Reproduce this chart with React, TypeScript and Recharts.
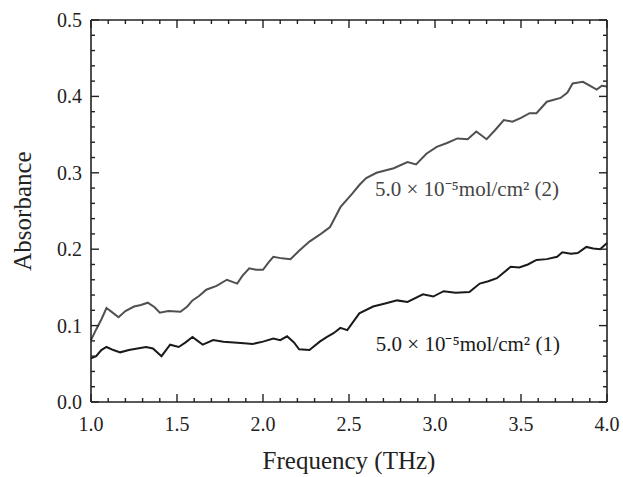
import { LineChart, Line, XAxis, YAxis, ReferenceDot } from 'recharts';

// sample (2) - upper trace
const freq2 = [
  1.0, 1.03, 1.06, 1.09, 1.12, 1.16, 1.2, 1.25, 1.29, 1.33, 1.37, 1.4, 1.45, 1.52, 1.56, 1.59,
  1.63, 1.67, 1.73, 1.79, 1.85, 1.88, 1.92, 1.96, 2.0, 2.03, 2.06, 2.11, 2.16, 2.21, 2.27, 2.33,
  2.36, 2.39, 2.45, 2.52, 2.56, 2.6, 2.66, 2.76, 2.84, 2.89, 2.95, 3.01, 3.07, 3.13, 3.19, 3.24,
  3.3, 3.35, 3.4, 3.45, 3.5, 3.55, 3.59, 3.65, 3.73, 3.77, 3.8, 3.86, 3.9, 3.94, 3.97, 4.0,
];
const abs2 = [
  0.081, 0.095, 0.108, 0.123, 0.118, 0.111, 0.119, 0.125, 0.127, 0.13, 0.124, 0.117, 0.119, 0.118, 0.125, 0.133,
  0.139, 0.147, 0.152, 0.16, 0.155, 0.165, 0.175, 0.173, 0.173, 0.182, 0.19, 0.188, 0.187, 0.198, 0.21, 0.219,
  0.224, 0.229, 0.255, 0.273, 0.284, 0.293, 0.3, 0.306, 0.314, 0.311, 0.325, 0.334, 0.339, 0.345, 0.344, 0.354,
  0.344, 0.356, 0.369, 0.367, 0.372, 0.378, 0.378, 0.393, 0.398, 0.405, 0.417, 0.419, 0.414, 0.409, 0.414, 0.413,
];

// sample (1) - lower trace
const freq1 = [
  1.0, 1.03, 1.06, 1.09, 1.13, 1.17, 1.22, 1.27, 1.32, 1.36, 1.41, 1.46, 1.51, 1.55, 1.59, 1.62,
  1.65, 1.71, 1.77, 1.83, 1.89, 1.94, 2.0, 2.06, 2.1, 2.14, 2.18, 2.21, 2.27, 2.33, 2.37, 2.41,
  2.45, 2.49, 2.56, 2.64, 2.71, 2.78, 2.84, 2.93, 2.99, 3.05, 3.12, 3.2, 3.26, 3.31, 3.36, 3.44,
  3.49, 3.54, 3.59, 3.65, 3.71, 3.74, 3.79, 3.83, 3.88, 3.92, 3.96, 4.0,
];
const abs1 = [
  0.057, 0.06, 0.068, 0.072, 0.068, 0.065, 0.068, 0.07, 0.072, 0.07, 0.06, 0.075, 0.072, 0.078, 0.085, 0.08,
  0.075, 0.081, 0.079, 0.078, 0.077, 0.076, 0.079, 0.083, 0.081, 0.086, 0.078, 0.069, 0.068, 0.079, 0.085, 0.09,
  0.097, 0.094, 0.116, 0.125, 0.129, 0.133, 0.131, 0.141, 0.138, 0.145, 0.143, 0.144, 0.155, 0.158, 0.162, 0.177,
  0.176, 0.18, 0.186, 0.187, 0.19, 0.196, 0.194, 0.195, 0.203, 0.201, 0.2, 0.208,
];

const xTicks = [1.0, 1.1, 1.2, 1.3, 1.4, 1.5, 1.6, 1.7, 1.8, 1.9, 2.0, 2.1, 2.2, 2.3, 2.4, 2.5, 2.6, 2.7, 2.8, 2.9, 3.0, 3.1, 3.2, 3.3, 3.4, 3.5, 3.6, 3.7, 3.8, 3.9, 4.0];
const yTicks = [0, 0.02, 0.04, 0.06, 0.08, 0.1, 0.12, 0.14, 0.16, 0.18, 0.2, 0.22, 0.24, 0.26, 0.28, 0.3, 0.32, 0.34, 0.36, 0.38, 0.4, 0.42, 0.44, 0.46, 0.48, 0.5];

const label2 = '5.0 × 10⁻⁵mol/cm² (2)';
const label1 = '5.0 × 10⁻⁵mol/cm² (1)';

const data2 = freq2.map((f, i) => ({ f, a: abs2[i] }));
const data1 = freq1.map((f, i) => ({ f, a: abs1[i] }));

const FONT = 'Liberation Serif';
const INK = '#222';

// layout: plot box size follows from chart size, margins and axis sizes
const W = 623;
const H = 477;
const M = { top: 19, right: 15, left: 0, bottom: 0 };
const Y_W = 91;
const X_H = 75;
const PLOT_W = W - M.left - M.right - Y_W - 1;
const PLOT_H = H - M.top - M.bottom - X_H - 1;

const isMajorX = (v: number) => Math.abs(v * 2 - Math.round(v * 2)) < 1e-6;
const isMajorY = (v: number) => Math.abs(v * 10 - Math.round(v * 10)) < 1e-6;

// inward ticks on bottom and top edges
const BottomTick = (props: any) => {
  const { x, y, payload } = props;
  const major = isMajorX(payload.value);
  const len = major ? 8 : 4;
  return (
    <g>
      <line x1={x} y1={y} x2={x} y2={y - len} stroke={INK} strokeWidth={1.4} />
      <line x1={x} y1={y - PLOT_H} x2={x} y2={y - PLOT_H + len} stroke={INK} strokeWidth={1.4} />
      {major && (
        <text x={x} y={y + 29} textAnchor="middle" fontFamily={FONT} fontSize={20} fill={INK}>
          {payload.value.toFixed(1)}
        </text>
      )}
    </g>
  );
};

// inward ticks on left and right edges
const LeftTick = (props: any) => {
  const { x, y, payload } = props;
  const major = isMajorY(payload.value);
  const len = major ? 8 : 4;
  return (
    <g>
      <line x1={x} y1={y} x2={x + len} y2={y} stroke={INK} strokeWidth={1.4} />
      <line x1={x + PLOT_W} y1={y} x2={x + PLOT_W - len} y2={y} stroke={INK} strokeWidth={1.4} />
      {major && (
        <text x={x - 9} y={y + 7} textAnchor="end" fontFamily={FONT} fontSize={20} fill={INK}>
          {payload.value.toFixed(1)}
        </text>
      )}
    </g>
  );
};

export default function App() {
  return (
    <div style={{ position: 'absolute', left: 0, top: 0, width: W, height: H, background: '#fff' }}>
      <LineChart width={W} height={H} margin={M}>
        <XAxis
          dataKey="f"
          type="number"
          domain={[1, 4]}
          ticks={xTicks}
          interval={0}
          height={X_H}
          tickSize={0}
          tickMargin={0}
          axisLine={{ stroke: INK, strokeWidth: 1.6 }}
          tick={BottomTick}
          label={{ value: 'Frequency (THz)', position: 'insideBottom', offset: 8, fontSize: 25, fontFamily: FONT, fill: INK }}
        />
        <XAxis xAxisId="top" orientation="top" type="number" domain={[1, 4]} height={1} tick={false} axisLine={{ stroke: INK, strokeWidth: 1.6 }} />
        <YAxis
          type="number"
          domain={[0, 0.5]}
          ticks={yTicks}
          interval={0}
          width={Y_W}
          tickSize={0}
          tickMargin={0}
          axisLine={{ stroke: INK, strokeWidth: 1.6 }}
          tick={LeftTick}
          label={{ value: 'Absorbance', angle: -90, position: 'insideLeft', offset: 22, textAnchor: 'middle', fontSize: 25, fontFamily: FONT, fill: INK }}
        />
        <YAxis yAxisId="right" orientation="right" type="number" domain={[0, 0.5]} width={1} tick={false} axisLine={{ stroke: INK, strokeWidth: 1.6 }} />
        <Line data={data2} dataKey="a" type="linear" stroke="#505050" strokeWidth={2} dot={false} isAnimationActive={false} />
        <Line data={data1} dataKey="a" type="linear" stroke="#1a1a1a" strokeWidth={2} dot={false} isAnimationActive={false} />
        <ReferenceDot
          x={2.645}
          y={0.279}
          r={1}
          fill="none"
          stroke="none"
          label={{ value: label2, position: 'right', offset: 0, fontSize: 21, fontFamily: FONT, fill: '#444' }}
        />
        <ReferenceDot
          x={2.65}
          y={0.076}
          r={1}
          fill="none"
          stroke="none"
          label={{ value: label1, position: 'right', offset: 0, fontSize: 21, fontFamily: FONT, fill: '#1a1a1a' }}
        />
      </LineChart>
    </div>
  );
}
